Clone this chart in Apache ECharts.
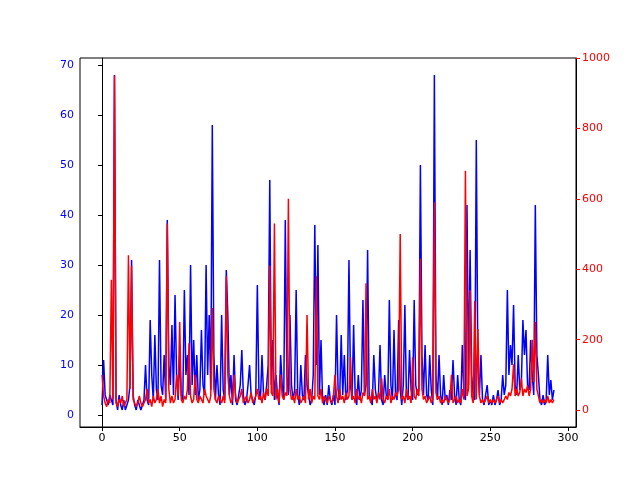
<!DOCTYPE html>
<html><head><meta charset="utf-8">
<script src="https://cdn.jsdelivr.net/npm/echarts@6/dist/echarts.min.js"></script>
<style>html,body{margin:0;padding:0;background:#fff}#c{width:640px;height:480px}</style>
</head><body><div id="c"></div>
<script>
const blueValues = [2,11,4,3,2,4,3,2,68,3, 1,4,2,1,3,1,2,3,6,31, 4,2,1,3,2,1,2,3,10,3, 2,19,8,3,16,5,3,31,6,4,
12,3,39,10,6,18,4,24,8,3, 12,4,3,25,8,12,4,30,6,15, 4,12,3,5,17,6,4,30,8,20, 5,58,12,3,10,4,2,20,5,3,
29,20,4,8,2,12,3,2,4,6, 13,4,2,3,6,10,4,3,2,4, 26,5,3,12,4,3,6,10,47,6, 15,3,8,4,2,12,6,3,39,8,
4,20,6,3,5,25,4,2,10,4, 3,12,6,4,2,3,8,38,10,34, 4,15,3,2,4,2,6,3,2,4, 2,20,5,3,16,4,12,3,5,31,
6,3,18,4,2,8,3,5,23,4, 6,33,4,3,2,12,5,3,4,14, 3,2,8,4,3,23,6,3,17,4, 3,19,5,2,6,22,4,3,13,5,
3,23,6,4,5,50,12,4,14,4, 3,12,5,2,68,8,3,12,4,2, 8,3,4,2,5,3,11,4,2,8, 3,2,14,4,3,42,6,33,8,4,
3,55,10,4,12,3,2,4,6,2, 3,2,4,2,3,5,2,3,8,4, 6,25,8,14,10,22,6,4,12,5, 6,19,12,17,6,5,15,8,4,42,
12,8,3,2,4,2,3,12,4,7, 3,5];
const redValues = [100,40,20,10,30,20,370,30,950,20, 10,30,20,40,10,20,30,440,60,410, 30,20,10,20,40,20,10,20,30,60,
20,30,10,40,20,30,60,20,40,10, 30,20,530,60,20,40,20,30,100,40, 250,30,20,40,30,60,190,40,20,30,
100,30,20,40,30,20,60,40,30,20, 40,290,60,30,20,40,30,20,40,20, 380,100,40,20,30,100,40,20,30,40,
60,20,30,40,20,30,50,20,30,40, 60,30,40,20,50,30,60,40,410,50, 40,530,30,60,20,100,40,30,50,40,
600,60,30,40,20,60,30,40,20,30, 40,20,270,30,60,20,40,30,380,40, 30,60,20,40,30,20,40,30,20,40,
100,40,20,60,30,40,20,50,30,40, 150,30,40,20,60,30,40,20,50,40, 360,30,40,20,60,30,40,20,50,30,
90,30,20,40,30,60,20,40,30,50, 40,60,500,30,40,20,60,30,40,20, 150,40,30,60,40,430,60,30,40,20,
30,40,20,30,590,50,30,40,20,30, 20,40,30,20,30,100,20,30,40,20, 30,20,60,30,680,40,60,340,40,20,
310,30,230,40,20,30,20,30,40,20, 30,20,30,20,30,40,20,30,20,30, 40,30,50,40,60,130,40,60,40,50,
90,40,60,50,70,40,60,200,80,250, 60,40,20,30,20,30,20,40,20,30, 20,30];
const xTicks = [0,50,100,150,200,250,300];
const leftTicks = [0,10,20,30,40,50,60,70];
const rightTicks = [0,200,400,600,800,1000];

const font = 'DejaVu Sans';
const chart = echarts.init(document.getElementById('c'), null, {renderer:'canvas'});
chart.setOption({
  animation:false,
  grid:{left:80,right:64,top:58,bottom:53,show:true,borderColor:'#000',borderWidth:1,backgroundColor:'transparent'},
  xAxis:{type:'value',min:-14.2,max:305.2,
    axisLine:{onZero:false,lineStyle:{color:'#000'}},
    axisTick:{customValues:xTicks,length:4,lineStyle:{color:'#000'}},
    axisLabel:{customValues:xTicks,color:'#000',fontFamily:font,fontSize:11,margin:6},
    splitLine:{show:false}},
  yAxis:[
    {type:'value',position:'left',min:-2.4,max:71.4,
     axisLine:{show:true,lineStyle:{color:'#000'}},
     axisTick:{show:true,customValues:leftTicks,length:4,lineStyle:{color:'#000'}},
     axisLabel:{customValues:leftTicks,color:'blue',fontFamily:font,fontSize:11,margin:6},
     splitLine:{show:false}},
    {type:'value',position:'right',min:-48,max:1000,
     axisLine:{show:true,lineStyle:{color:'#000'}},
     axisTick:{show:true,customValues:rightTicks,length:4,lineStyle:{color:'red'}},
     axisLabel:{customValues:rightTicks,color:'red',fontFamily:font,fontSize:11,margin:6,formatter:v=>String(v)},
     splitLine:{show:false}}
  ],
  series:[
    {type:'line',yAxisIndex:0,data:blueValues.map((v,i)=>[i,v]),showSymbol:false,
     lineStyle:{color:'blue',width:1.5},itemStyle:{color:'blue'}},
    {type:'line',yAxisIndex:1,data:redValues.map((v,i)=>[i,v]),showSymbol:false,
     lineStyle:{color:'red',width:1.5},itemStyle:{color:'red'}}
  ]
});
</script></body></html>
